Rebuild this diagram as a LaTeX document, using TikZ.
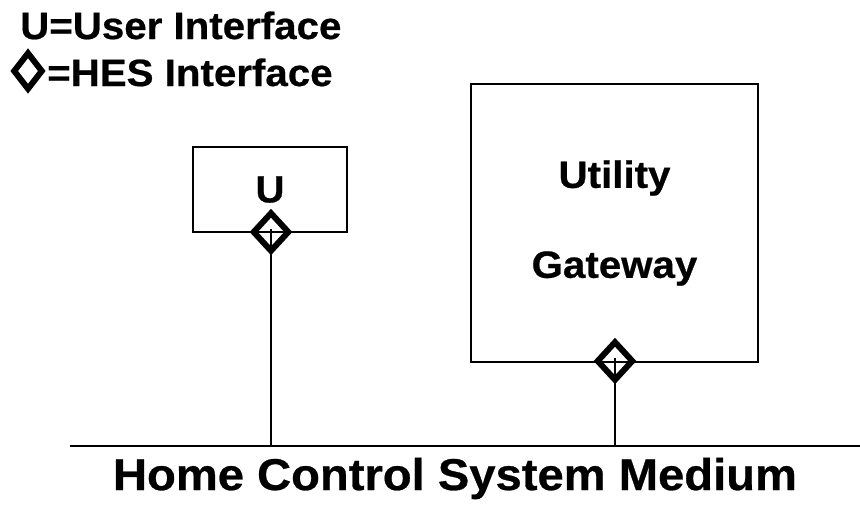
\documentclass[tikz,border=0pt]{standalone}
\usepackage{fontspec}
\setmainfont{Liberation Sans}[FakeStretch=1.06, BoldFeatures={FakeBold=0.6}]
\usetikzlibrary{shapes.geometric}

\begin{document}
\begin{tikzpicture}[x=1pt, y=-1pt,
    unit/.style={draw, line width=2.6pt, inner sep=0pt, align=center},
    hes/.style={diamond, draw, line width=6pt, inner sep=0pt, minimum width=37pt, minimum height=40pt},
    stem/.style={line width=1.5pt},
    lbl/.style={font=\fontsize{38}{42}\selectfont\bfseries, inner sep=0pt}
]
    \useasboundingbox (0,0) rectangle (860,504);

    % Legend
    \node[lbl, anchor=base west] (legU) at (20,39) {U=User Interface};
    \node[hes, minimum width=30pt, minimum height=38pt] (legD) at (28,71) {};
    \node[lbl, anchor=base west] (legH) at (47,86) {=HES Interface};

    % Draw units
    \node[unit, lbl, minimum width=154pt, minimum height=85pt] (ui) at (270,189.5) {U};
    \node[unit, lbl, minimum width=287pt, minimum height=278pt] (ug) at (614.5,223) {Utility\\[48pt]Gateway};

    % Draw interfaces
    \node[hes] (dU) at (271,232) {};
    \node[hes] (dG) at (615,361) {};

    % Medium
    \coordinate (busL) at (70,446);
    \coordinate (busR) at (860,446);
    \draw[line width=2pt] (busL) -- (busR);
    \node[lbl, font=\fontsize{44.5}{48}\selectfont\bfseries, anchor=base] (medium) at (455,490) {Home Control System Medium};

    % Draw connections
    \draw[stem] ([yshift=3pt]dU.center) -- (dU |- busL);
    \draw[stem] ([yshift=3pt]dG.center) -- (dG |- busL);
\end{tikzpicture}
\end{document}
